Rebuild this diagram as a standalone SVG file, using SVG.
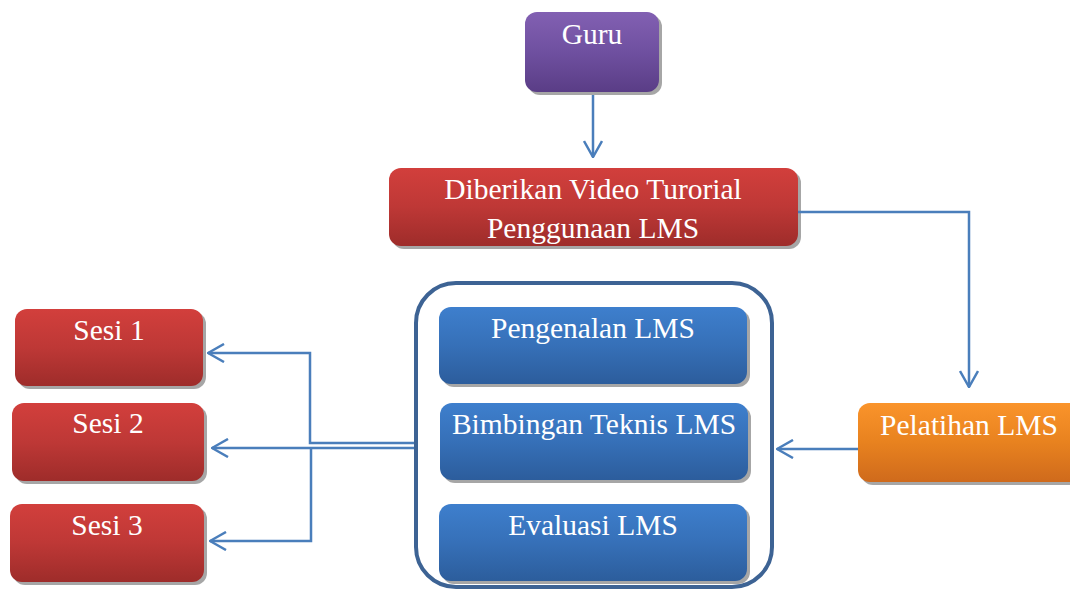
<svg xmlns="http://www.w3.org/2000/svg" width="1070" height="590" viewBox="0 0 1070 590">
<defs>
<linearGradient id="gRed" x1="0" y1="0" x2="0" y2="1"><stop offset="0" stop-color="#D23F3C"/><stop offset="0.5" stop-color="#BE3836"/><stop offset="1" stop-color="#9E2C2A"/></linearGradient>
<linearGradient id="gPur" x1="0" y1="0" x2="0" y2="1"><stop offset="0" stop-color="#8260B2"/><stop offset="0.5" stop-color="#6F50A0"/><stop offset="1" stop-color="#5A3D86"/></linearGradient>
<linearGradient id="gBlue" x1="0" y1="0" x2="0" y2="1"><stop offset="0" stop-color="#3E7FCD"/><stop offset="0.5" stop-color="#3670B8"/><stop offset="1" stop-color="#2C5D9C"/></linearGradient>
<linearGradient id="gOr" x1="0" y1="0" x2="0" y2="1"><stop offset="0" stop-color="#FA942B"/><stop offset="0.5" stop-color="#E8821F"/><stop offset="1" stop-color="#CF6A1C"/></linearGradient>
<marker id="arr" viewBox="0 0 18 20" refX="17" refY="10" markerWidth="18" markerHeight="20" markerUnits="userSpaceOnUse" orient="auto">
<path d="M1,1 L17,10 L1,19" fill="none" stroke="#4A7EBB" stroke-width="2.5"/>
</marker>
</defs>
<style>
.sh{fill:#A6A6A6}
.t{font-family:"Liberation Serif","Times New Roman",serif;font-size:29.5px;fill:#FFFFFF;text-anchor:middle}
.c{fill:none;stroke:#4A7EBB;stroke-width:2.5}
</style>
<rect width="1070" height="590" fill="#FFFFFF"/>

<g id="guru">
<rect class="sh" x="528" y="15" width="134" height="80" rx="12"/>
<rect x="525" y="12" width="134" height="80" rx="12" fill="url(#gPur)"/>
<text class="t" x="592" y="44">Guru</text>
</g>

<g id="video">
<rect class="sh" x="392" y="171" width="409" height="78" rx="12"/>
<rect x="389" y="168" width="409" height="78" rx="12" fill="url(#gRed)"/>
<text class="t" x="593" y="199">Diberikan Video Turorial</text>
<text class="t" x="593" y="238">Penggunaan LMS</text>
</g>

<g id="pelatihan">
<rect class="sh" x="861" y="406" width="230" height="79" rx="12"/>
<rect x="858" y="403" width="230" height="79" rx="12" fill="url(#gOr)"/>
<text class="t" x="969" y="435">Pelatihan LMS</text>
</g>

<g id="container">
<rect x="416" y="283" width="356" height="304" rx="40" fill="#FFFFFF" stroke="#3D6394" stroke-width="4"/>
</g>

<g id="pengenalan">
<rect class="sh" x="442" y="310" width="308" height="77" rx="12"/>
<rect x="439" y="307" width="308" height="77" rx="12" fill="url(#gBlue)"/>
<text class="t" x="593" y="338">Pengenalan LMS</text>
</g>

<g id="bimbingan">
<rect class="sh" x="443" y="406" width="308" height="77" rx="12"/>
<rect x="440" y="403" width="308" height="77" rx="12" fill="url(#gBlue)"/>
<text class="t" x="594" y="434">Bimbingan Teknis LMS</text>
</g>

<g id="evaluasi">
<rect class="sh" x="442" y="507" width="308" height="77" rx="12"/>
<rect x="439" y="504" width="308" height="77" rx="12" fill="url(#gBlue)"/>
<text class="t" x="593" y="535">Evaluasi LMS</text>
</g>

<g id="sesi1">
<rect class="sh" x="18" y="312" width="188" height="77" rx="12"/>
<rect x="15" y="309" width="188" height="77" rx="12" fill="url(#gRed)"/>
<text class="t" x="109" y="340">Sesi 1</text>
</g>

<g id="sesi2">
<rect class="sh" x="15" y="406" width="192" height="78" rx="12"/>
<rect x="12" y="403" width="192" height="78" rx="12" fill="url(#gRed)"/>
<text class="t" x="108" y="433">Sesi 2</text>
</g>

<g id="sesi3">
<rect class="sh" x="13" y="507" width="194" height="78" rx="12"/>
<rect x="10" y="504" width="194" height="78" rx="12" fill="url(#gRed)"/>
<text class="t" x="107" y="535">Sesi 3</text>
</g>

<g id="connectors">
<path class="c" d="M593,95 L593,157" marker-end="url(#arr)"/>
<path class="c" d="M798,212 L969,212 L969,387" marker-end="url(#arr)"/>
<path class="c" d="M858,449 L777,449" marker-end="url(#arr)"/>
<path class="c" d="M414,443 L310,443 L310,353 L208,353" marker-end="url(#arr)"/>
<path class="c" d="M414,448 L212,448" marker-end="url(#arr)"/>
<path class="c" d="M311,448 L311,541 L210,541" marker-end="url(#arr)"/>
</g>
</svg>
